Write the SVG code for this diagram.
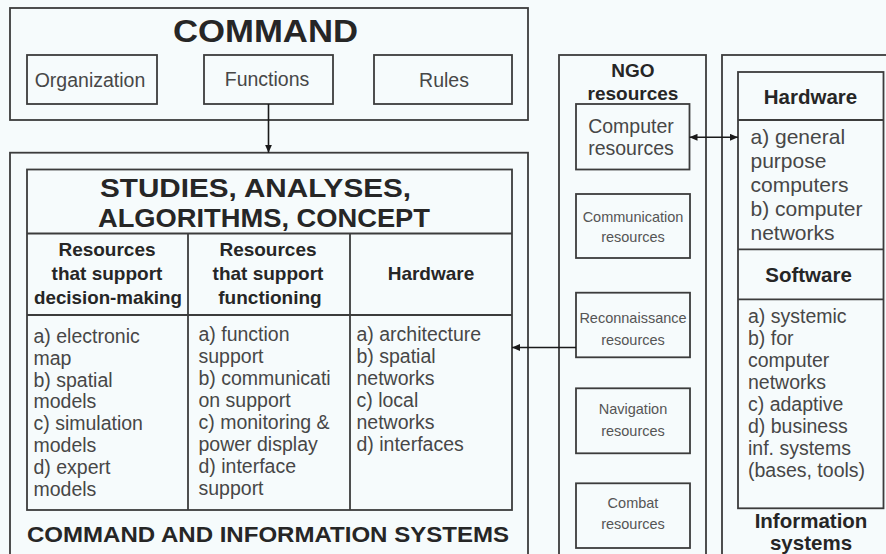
<svg xmlns="http://www.w3.org/2000/svg" width="886" height="554" viewBox="0 0 886 554">
<style>
.bx{fill:none;stroke:#3c3c3c;stroke-width:1.8}
.ln{stroke:#3c3c3c;stroke-width:1.8;fill:none}
.t{font-family:"Liberation Sans",Arial,sans-serif;fill:#474747}
.r{font-size:19.5px}
.s{font-size:14.5px;fill:#555}
.b{font-weight:bold;fill:#262626}
.m{text-anchor:middle}
.c{stroke:#1a1a1a;stroke-width:1.6;fill:none}
</style>
<defs>
<marker id="ah" viewBox="0 0 8 7" refX="8" refY="3.5" markerWidth="8" markerHeight="7" markerUnits="userSpaceOnUse" orient="auto-start-reverse">
<path d="M0,0 L8,3.5 L0,7 z" fill="#1a1a1a"/>
</marker>
</defs>
<rect x="0" y="0" width="886" height="554" fill="#f6fbfc"/>

<g id="command">
<rect class="bx" x="10" y="8" width="518" height="112"/>
<text class="t b" x="173" y="41.7" font-size="31" textLength="185" lengthAdjust="spacingAndGlyphs">COMMAND</text>
</g>
<g id="organization">
<rect class="bx" x="27" y="55" width="130" height="49"/>
<text class="t r m" x="90" y="86.5">Organization</text>
</g>
<g id="functions">
<rect class="bx" x="204" y="55" width="129" height="49"/>
<text class="t r m" x="267" y="86">Functions</text>
</g>
<g id="rules">
<rect class="bx" x="374" y="55" width="138" height="49"/>
<text class="t r m" x="444" y="86.5">Rules</text>
</g>

<g id="cis">
<rect class="bx" x="10" y="152.7" width="518" height="410"/>
<text class="t b" x="27" y="541.7" font-size="21.5" textLength="482" lengthAdjust="spacingAndGlyphs">COMMAND AND INFORMATION SYSTEMS</text>
</g>
<g id="table">
<rect class="bx" x="27" y="169.5" width="485" height="340.5"/>
<line class="ln" x1="27" y1="233.5" x2="512" y2="233.5"/>
<line class="ln" x1="27" y1="315" x2="512" y2="315"/>
<line class="ln" x1="188" y1="233.5" x2="188" y2="510"/>
<line class="ln" x1="350" y1="233.5" x2="350" y2="510"/>
<text class="t b" x="100" y="196.7" font-size="26" textLength="311" lengthAdjust="spacingAndGlyphs">STUDIES, ANALYSES,</text>
<text class="t b" x="98" y="227.3" font-size="26" textLength="332" lengthAdjust="spacingAndGlyphs">ALGORITHMS, CONCEPT</text>
<g class="t b m" font-size="19">
<text x="107" y="256">Resources</text>
<text x="107" y="280">that support</text>
<text x="108" y="304" textLength="148" lengthAdjust="spacingAndGlyphs">decision-making</text>
<text x="268" y="256">Resources</text>
<text x="268" y="280">that support</text>
<text x="270" y="304">functioning</text>
<text x="431" y="280">Hardware</text>
</g>
<g class="t r">
<text x="33.5" y="342.7">a) electronic</text>
<text x="33.5" y="364.6">map</text>
<text x="33.5" y="386.5">b) spatial</text>
<text x="33.5" y="408.4">models</text>
<text x="33.5" y="430.3">c) simulation</text>
<text x="33.5" y="452.2">models</text>
<text x="33.5" y="474.1">d) expert</text>
<text x="33.5" y="496">models</text>
<text x="198.5" y="341.2">a) function</text>
<text x="198.5" y="363.1">support</text>
<text x="198.5" y="385">b) communicati</text>
<text x="198.5" y="406.9">on support</text>
<text x="198.5" y="428.8">c) monitoring &amp;</text>
<text x="198.5" y="450.7">power display</text>
<text x="198.5" y="472.6">d) interface</text>
<text x="198.5" y="494.5">support</text>
<text x="356.5" y="341.2">a) architecture</text>
<text x="356.5" y="363.1">b) spatial</text>
<text x="356.5" y="385">networks</text>
<text x="356.5" y="406.9">c) local</text>
<text x="356.5" y="428.8">networks</text>
<text x="356.5" y="450.7">d) interfaces</text>
</g>
</g>

<g id="ngo">
<rect class="bx" x="559" y="55" width="147" height="510"/>
<text class="t b m" x="633" y="76.7" font-size="19">NGO</text>
<text class="t b m" x="633" y="100" font-size="19">resources</text>
</g>
<g id="computer-resources">
<rect class="bx" x="576" y="104" width="113.5" height="65.5"/>
<text class="t r m" x="631" y="133.3">Computer</text>
<text class="t r m" x="631" y="154.5">resources</text>
</g>
<g id="communication-resources">
<rect class="bx" x="576" y="194" width="114" height="64"/>
<text class="t s m" x="633" y="221.7">Communication</text>
<text class="t s m" x="633" y="241.7">resources</text>
</g>
<g id="reconnaissance-resources">
<rect class="bx" x="576" y="292.7" width="114" height="64.6"/>
<text class="t s m" x="633" y="323.3">Reconnaissance</text>
<text class="t s m" x="633" y="345">resources</text>
</g>
<g id="navigation-resources">
<rect class="bx" x="576" y="388.3" width="114" height="65"/>
<text class="t s m" x="633" y="414">Navigation</text>
<text class="t s m" x="633" y="435.7">resources</text>
</g>
<g id="combat-resources">
<rect class="bx" x="576" y="483.3" width="114" height="64.7"/>
<text class="t s m" x="633" y="508">Combat</text>
<text class="t s m" x="633" y="529.3">resources</text>
</g>

<g id="information-systems">
<rect class="bx" x="722" y="55" width="200" height="510"/>
<text class="t b m" x="811" y="528.3" font-size="20.5">Information</text>
<text class="t b m" x="811" y="550" font-size="20.5">systems</text>
</g>
<g id="is-table">
<rect class="bx" x="738" y="72" width="145.5" height="436.3"/>
<line class="ln" x1="738" y1="120" x2="883.5" y2="120"/>
<line class="ln" x1="738" y1="249.3" x2="883.5" y2="249.3"/>
<line class="ln" x1="738" y1="299.3" x2="883.5" y2="299.3"/>
<text class="t b m" x="810.5" y="103.5" font-size="20.5">Hardware</text>
<text class="t b m" x="808.5" y="281.7" font-size="20.5">Software</text>
<g class="t" font-size="21">
<text x="750.5" y="143.5">a) general</text>
<text x="750.5" y="167.5">purpose</text>
<text x="750.5" y="191.5">computers</text>
<text x="750.5" y="215.5">b) computer</text>
<text x="750.5" y="239.5">networks</text>
</g>
<g class="t r">
<text x="748" y="323.3">a) systemic</text>
<text x="748" y="345.2">b) for</text>
<text x="748" y="367.1">computer</text>
<text x="748" y="389">networks</text>
<text x="748" y="410.9">c) adaptive</text>
<text x="748" y="432.8">d) business</text>
<text x="748" y="454.7">inf. systems</text>
<text x="748" y="476.6">(bases, tools)</text>
</g>
</g>

<g id="connectors">
<line class="c" x1="268.5" y1="104" x2="268.5" y2="152.7" marker-end="url(#ah)"/>
<line class="c" x1="689.5" y1="137.3" x2="738" y2="137.3" marker-start="url(#ah)" marker-end="url(#ah)"/>
<line class="c" x1="576" y1="347.5" x2="512" y2="347.5" marker-end="url(#ah)"/>
</g>
</svg>
